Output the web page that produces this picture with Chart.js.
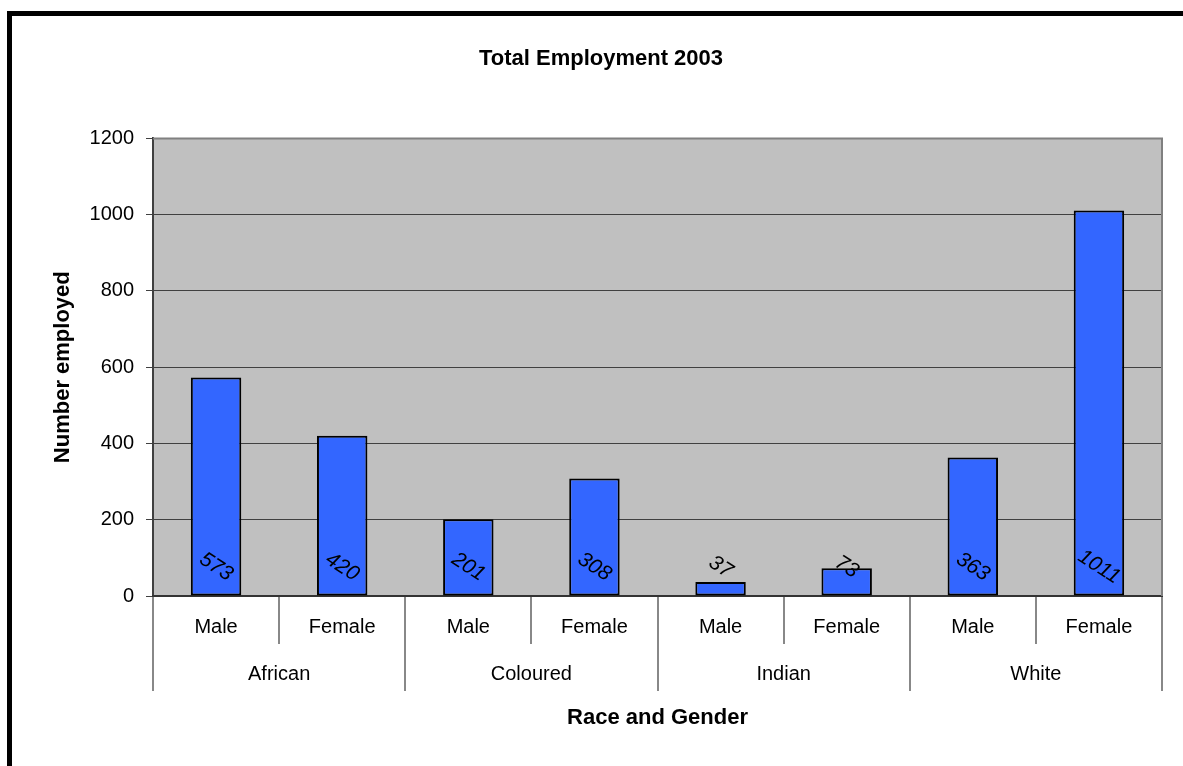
<!DOCTYPE html>
<html>
<head>
<meta charset="utf-8">
<title>Total Employment 2003</title>
<script src="https://cdn.jsdelivr.net/npm/chart.js@4/dist/chart.umd.min.js"></script>
<style>
  html, body { margin: 0; padding: 0; background: #fff; overflow: hidden; }
  #frame {
    position: absolute; left: 7px; top: 11px; width: 2000px; height: 2000px;
    border-left: 5px solid #000; border-top: 5px solid #000;
  }
  #chart { position: absolute; left: 0; top: 0; z-index: 1; }
</style>
</head>
<body>
<div id="frame"></div>
<canvas id="chart" width="1183" height="766"></canvas>
<script>
// --- Data ---
const genders = ['Male', 'Female', 'Male', 'Female', 'Male', 'Female', 'Male', 'Female'];
const races = ['African', 'Coloured', 'Indian', 'White'];
const employed = [573, 420, 201, 308, 37, 73, 363, 1011];
const yMin = 0;
const yMax = 1200;
const yStep = 200;

const FONT = "'Liberation Sans', Arial, sans-serif";

// --- Plot area background + gray frame (top/right) ---
const plotArea = {
  id: 'plotArea',
  beforeDraw(chart) {
    const { ctx, chartArea: a } = chart;
    ctx.save();
    ctx.fillStyle = '#c0c0c0';
    ctx.fillRect(a.left, a.top, a.right - a.left, a.bottom - a.top);
    ctx.restore();
  },
  beforeDatasetsDraw(chart) {
    const { ctx, chartArea: a } = chart;
    ctx.save();
    ctx.strokeStyle = '#808080';
    ctx.lineWidth = 2;
    ctx.beginPath();
    ctx.moveTo(a.left, a.top);
    ctx.lineTo(a.right, a.top);
    ctx.lineTo(a.right, a.bottom);
    ctx.stroke();
    ctx.restore();
  }
};

// --- Rotated italic value labels at the foot of each bar ---
const valueLabels = {
  id: 'valueLabels',
  afterDatasetsDraw(chart) {
    const { ctx } = chart;
    const yZero = chart.scales.y.getPixelForValue(0);
    const meta = chart.getDatasetMeta(0);
    ctx.save();
    ctx.fillStyle = '#000';
    ctx.font = 'italic 21px ' + FONT;
    ctx.textAlign = 'center';
    ctx.textBaseline = 'middle';
    meta.data.forEach((bar, i) => {
      ctx.save();
      ctx.translate(bar.x, yZero - 29);
      ctx.rotate(33 * Math.PI / 180);
      ctx.fillText(String(employed[i]), 0, 0);
      ctx.restore();
    });
    ctx.restore();
  }
};

new Chart(document.getElementById('chart'), {
  type: 'bar',
  data: {
    labels: genders,
    datasets: [{
      data: employed,
      backgroundColor: '#3366ff',
      borderColor: '#000',
      borderWidth: 2,
      borderSkipped: false,
      barPercentage: 0.4,
      categoryPercentage: 1
    }]
  },
  options: {
    responsive: false,
    animation: false,
    devicePixelRatio: 1,
    layout: { padding: { left: 40, right: 21, top: 0, bottom: 0 } },
    plugins: {
      legend: { display: false },
      tooltip: { enabled: false },
      title: {
        display: true,
        text: 'Total Employment 2003',
        color: '#000',
        font: { family: FONT, size: 22, weight: 'bold' },
        padding: { top: 46, bottom: 66 }
      }
    },
    scales: {
      y: {
        min: yMin,
        max: yMax,
        afterFit: s => { s.width = 113; },
        ticks: {
          stepSize: yStep,
          color: '#000',
          padding: 12,
          font: { family: FONT, size: 20 },
          callback: v => String(v)
        },
        grid: { color: '#404040', lineWidth: 1, tickLength: 7 },
        border: { color: '#404040', width: 2 },
        title: {
          display: true,
          text: 'Number employed',
          color: '#000',
          font: { family: FONT, size: 22, weight: 'bold' },
          padding: { top: 10, bottom: 0 }
        }
      },
      x: {
        position: 'bottom',
        weight: 0,
        offset: true,
        afterFit: s => { s.height = 48; },
        ticks: {
          color: '#000',
          padding: -29,
          maxRotation: 0,
          autoSkip: false,
          font: { family: FONT, size: 20 }
        },
        grid: {
          offset: true,
          drawOnChartArea: false,
          tickLength: 48,
          color: '#888',
          lineWidth: 2
        },
        border: { color: '#333', width: 2 }
      },
      x2: {
        type: 'category',
        labels: races,
        position: 'bottom',
        weight: 1,
        offset: true,
        afterFit: s => { s.height = 122; },
        ticks: {
          color: '#000',
          padding: -29,
          maxRotation: 0,
          autoSkip: false,
          font: { family: FONT, size: 20 }
        },
        grid: {
          offset: true,
          drawOnChartArea: false,
          tickLength: 47,
          color: '#888',
          lineWidth: 2
        },
        border: { display: false },
        title: {
          display: true,
          text: 'Race and Gender',
          color: '#000',
          font: { family: FONT, size: 22, weight: 'bold' },
          padding: { top: 0, bottom: 35 }
        }
      }
    }
  },
  plugins: [plotArea, valueLabels]
});
</script>
</body>
</html>
